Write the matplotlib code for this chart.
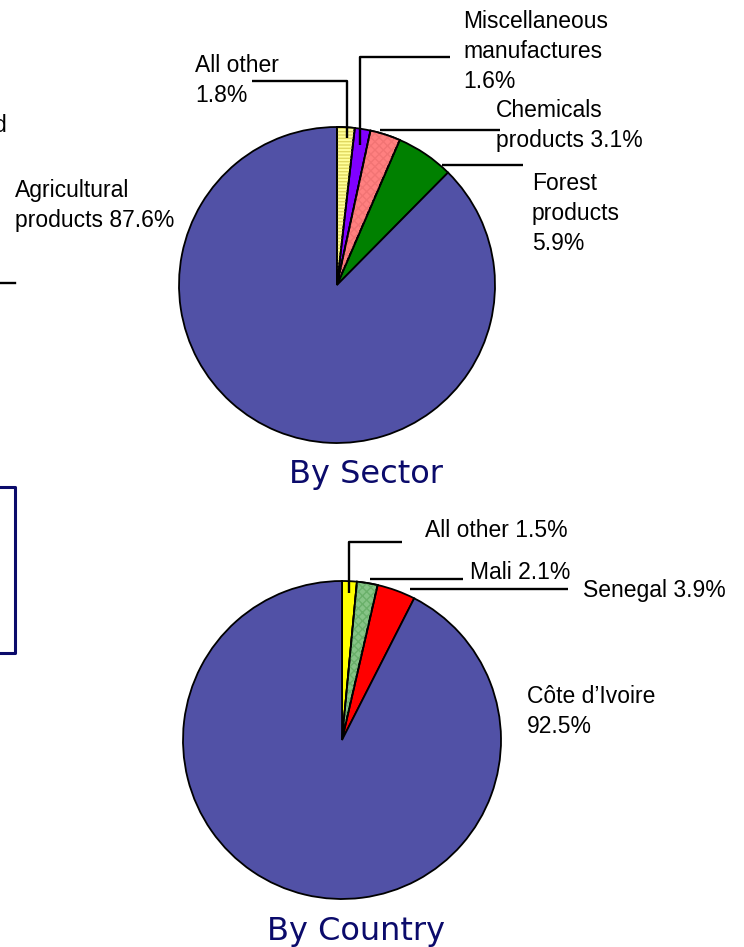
import matplotlib
matplotlib.use("Agg")
import matplotlib.pyplot as plt
import matplotlib.patches as mpatches
import numpy as np

# ---------------- data ----------------
sector_labels = ["All other\n1.8%", "Miscellaneous\nmanufactures\n1.6%",
                 "Chemicals\nproducts 3.1%", "Forest\nproducts\n5.9%",
                 "Agricultural\nproducts 87.6%"]
sector_values = [1.8, 1.6, 3.1, 5.9, 87.6]
sector_colors = ["#FFFF99", "#8000FF", "#FF8080", "#008000", "#5151A6"]

country_labels = ["All other 1.5%", "Mali 2.1%", "Senegal 3.9%",
                  "Côte d\u2019Ivoire\n92.5%"]
country_values = [1.5, 2.1, 3.9, 92.5]
country_colors = ["#FFFF00", "#86C486", "#FF0000", "#5151A6"]

titles = ["By Sector", "By Country"]

# ---------------- layout (pixels) ----------------
W, H = 744, 947
fig = plt.figure(figsize=(W / 100, H / 100), dpi=100)
ax = fig.add_axes([0, 0, 1, 1])

LABEL_FONT = dict(family=["Liberation Sans", "DejaVu Sans"], fontsize=16.5, color="black")
TITLE_FONT = dict(family=["DejaVu Sans"], fontsize=23, color="#0B0B6B")
LSP = 1.4


def Y(py):
    return H - py


def draw_pie(values, colors, cx, cy, r, hatches=None):
    wedges, _ = ax.pie(values, colors=colors, startangle=90, counterclock=False,
                       center=(cx, Y(cy)), radius=r,
                       wedgeprops=dict(edgecolor="black", linewidth=1.3))
    if hatches:
        for w, hh in zip(wedges, hatches):
            if hh:
                h, hc = hh
                ax.add_patch(mpatches.Wedge(w.center, w.r, w.theta1, w.theta2,
                                            facecolor="none", edgecolor=hc,
                                            hatch=h, linewidth=0))
                ax.add_patch(mpatches.Wedge(w.center, w.r, w.theta1, w.theta2,
                                            facecolor="none", edgecolor="black",
                                            linewidth=1.3))
    return wedges


def anchor(values, idx, frac, k, cx, cy, r):
    total = sum(values)
    start = 90 - 360 * sum(values[:idx]) / total
    span = 360 * values[idx] / total
    th = np.deg2rad(start - frac * span)
    return cx + k * r * np.cos(th), cy - k * r * np.sin(th)


def leader(points):
    xs = [p[0] for p in points]
    ys = [Y(p[1]) for p in points]
    ax.plot(xs, ys, color="black", lw=1.7, solid_capstyle="butt")


# ---- pie 1: By Sector ----
c1 = (337, 285, 158)
draw_pie(sector_values, sector_colors, *c1,
         hatches=[("-----", "#E0D860"), None, ("xxxx", "#F27474"), None, None])

ax0 = anchor(sector_values, 0, 0.6, 0.93, *c1)
leader([ax0, (ax0[0], 81), (252, 81)])
a1 = anchor(sector_values, 1, 0.5, 0.9, *c1)
leader([a1, (a1[0], 57), (450, 57)])
a2 = anchor(sector_values, 2, 0.29, 1.02, *c1)
leader([a2, (500, a2[1])])
a3 = anchor(sector_values, 3, 0.83, 1.01, *c1)
leader([a3, (523, a3[1])])

# (x of left edge, baseline y of last line)
sector_pos = [(195, 102), (463, 88), (496, 147), (532, 250), (15, 227)]
for lab, (px, py) in zip(sector_labels, sector_pos):
    ax.text(px, Y(py), lab, ha="left", va="baseline", linespacing=LSP, **LABEL_FONT)

ax.text(366, Y(483), titles[0], ha="center", va="baseline", **TITLE_FONT)

# ---- pie 2: By Country ----
c2 = (342, 740, 159)
draw_pie(country_values, country_colors, *c2,
         hatches=[None, ("xxxx", "#6AB06A"), None, None])

b0 = anchor(country_values, 0, 0.5, 0.925, *c2)
leader([b0, (b0[0], 542), (402, 542)])
b1 = anchor(country_values, 1, 0.6, 1.03, *c2)
leader([b1, (463, b1[1])])
b2 = anchor(country_values, 2, 0.8, 1.04, *c2)
leader([b2, (568, b2[1])])

country_pos = [(425, 537), (470, 579), (583, 597), (527, 733)]
for lab, (px, py) in zip(country_labels, country_pos):
    ax.text(px, Y(py), lab, ha="left", va="baseline", linespacing=LSP, **LABEL_FONT)

ax.text(356, Y(940), titles[1], ha="center", va="baseline", **TITLE_FONT)

# ---- cropped fragments of neighbouring slide content at left edge ----
ax.text(7, Y(132), "d", ha="right", va="baseline", **LABEL_FONT)
ax.plot([0, 15], [Y(283), Y(283)], color="black", lw=1.7)
ax.plot([0, 15, 15, 0], [Y(487), Y(487), Y(653), Y(653)], color="#0B0B6B", lw=2.2)

ax.set_xlim(0, W)
ax.set_ylim(0, H)
ax.set_aspect("equal")
ax.axis("off")
fig.savefig("out.png", dpi=100, facecolor="white")
